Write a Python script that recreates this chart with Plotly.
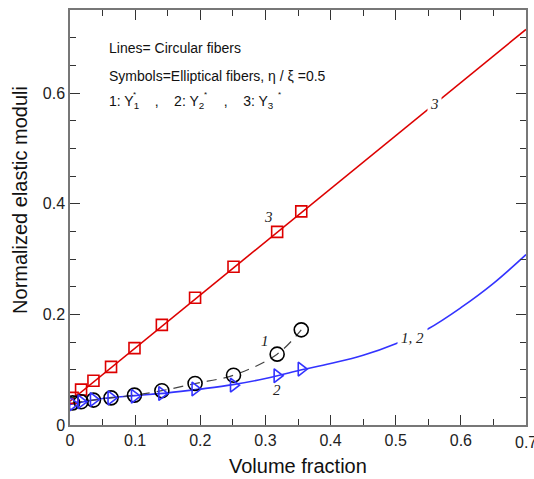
import plotly.graph_objects as go

# ---- data ----
vf_sym = [0.004, 0.017, 0.036, 0.063, 0.099, 0.141, 0.192, 0.251, 0.318, 0.355]
y3_sym = [0.049, 0.064, 0.080, 0.105, 0.139, 0.181, 0.230, 0.286, 0.349, 0.386]
y1_sym = [0.040, 0.042, 0.045, 0.049, 0.054, 0.062, 0.075, 0.090, 0.128, 0.172]
y2_sym = [0.038, 0.042, 0.046, 0.049, 0.052, 0.057, 0.065, 0.072, 0.089, 0.101]

line3_x = [0.0, 0.7]
line3_y = [0.043, 0.715]

line12_x = [0.0, 0.05, 0.1, 0.15, 0.2, 0.25, 0.3, 0.35, 0.4, 0.45, 0.5, 0.55, 0.6, 0.65, 0.7]
line12_y = [0.037, 0.048, 0.053, 0.058, 0.065, 0.073, 0.084, 0.098, 0.111, 0.126, 0.147, 0.174, 0.212, 0.256, 0.308]

x_ticks = [0, 0.1, 0.2, 0.3, 0.4, 0.5, 0.6]
x_tick_labels = ["0", "0.1", "0.2", "0.3", "0.4", "0.5", "0.6"]
x_last_tick = 0.7
x_last_label = "0.7"
y_ticks = [0, 0.2, 0.4, 0.6]
y_tick_labels = ["0", "0.2", "0.4", "0.6"]

RED = "#dd0000"
BLUE = "#3333ff"
BLACK = "#000000"

fig = go.Figure()
fig.add_trace(go.Scatter(x=line3_x, y=line3_y, mode="lines",
                         line=dict(color=RED, width=1.6), showlegend=False))
fig.add_trace(go.Scatter(x=line12_x, y=line12_y, mode="lines",
                         line=dict(color=BLUE, width=1.6, shape="spline"), showlegend=False))
fig.add_trace(go.Scatter(x=vf_sym, y=y1_sym, mode="lines",
                         line=dict(color="#444444", width=1.2, dash="10px,7px", shape="spline"),
                         showlegend=False))
fig.add_trace(go.Scatter(x=vf_sym, y=y3_sym, mode="markers",
                         marker=dict(symbol="square-open", size=11, color=RED,
                                     line=dict(width=1.6, color=RED)), showlegend=False))
fig.add_trace(go.Scatter(x=vf_sym, y=y1_sym, mode="markers",
                         marker=dict(symbol="circle-open", size=14, color=BLACK,
                                     line=dict(width=1.6, color=BLACK)), showlegend=False))
fig.add_trace(go.Scatter(x=vf_sym, y=y2_sym, mode="markers",
                         marker=dict(symbol="triangle-right-open", size=12, color=BLUE,
                                     line=dict(width=1.6, color=BLUE)), showlegend=False))

tick_font = dict(family="Liberation Sans, Arial", size=16, color="#222222")
title_font = dict(family="Liberation Sans, Arial", size=20, color="#111111")
axis_common = dict(
    showgrid=False, zeroline=False, showline=True, linecolor="#777777", linewidth=1.5,
    mirror="allticks", ticks="inside", ticklen=10, tickwidth=1.2, tickcolor="#333333",
    tickfont=tick_font, automargin=False,
)
fig.update_xaxes(range=[0, 0.7], tickmode="array", tickvals=x_ticks + [x_last_tick],
                 ticktext=x_tick_labels + [""],
                 minor=dict(tickmode="linear", tick0=0, dtick=0.05, ticklen=6,
                            tickcolor="#333333", ticks="inside"),
                 **axis_common)
fig.update_yaxes(range=[0, 0.75], tickmode="array", tickvals=y_ticks, ticktext=y_tick_labels,
                 minor=dict(tickmode="linear", tick0=0, dtick=0.05, ticklen=6,
                            tickcolor="#333333", ticks="inside"),
                 **axis_common)

sans = dict(family="Liberation Sans, Arial", size=14, color="#111111")
serif_it = dict(family="Liberation Serif, Times New Roman", size=15, color="#222222")

ann = []
# last x tick label (partly cut by the page edge, as in the reference)
ann.append(dict(text=x_last_label, x=x_last_tick, xref="x", yref="paper", y=-0.018,
                yanchor="top", xanchor="center", showarrow=False, font=tick_font))
# axis titles
ann.append(dict(text="Volume fraction", xref="paper", yref="paper", x=0.5, y=-0.099,
                xanchor="center", yanchor="middle", showarrow=False, font=title_font))
ann.append(dict(text="Normalized elastic moduli", xref="paper", yref="paper",
                x=-0.11, y=0.542, showarrow=False, textangle=-90, font=title_font,
                xanchor="center", yanchor="middle"))
ann.append(dict(text="Lines= Circular fibers", xref="paper", yref="paper", x=0.082, y=0.908,
                xanchor="left", yanchor="middle", showarrow=False, font=sans))
ann.append(dict(text="Symbols=Elliptical fibers, η / ξ =0.5", xref="paper", yref="paper",
                x=0.082, y=0.841, xanchor="left", yanchor="middle", showarrow=False, font=sans))
ann.append(dict(text="1: Y<sub>1</sub>    ,    2: Y<sub>2</sub>     ,    3: Y<sub>3</sub>",
                xref="paper", yref="paper", x=0.082, y=0.778, xanchor="left",
                yanchor="middle", showarrow=False, font=sans))
for sx in [0.141, 0.298, 0.459]:
    ann.append(dict(text="*", xref="paper", yref="paper", x=sx, y=0.797, xanchor="center",
                    yanchor="middle", showarrow=False,
                    font=dict(family="Liberation Sans, Arial", size=8, color="#111111")))

# curve labels
ann.append(dict(text="<i>3</i>", x=0.304, y=0.376, showarrow=False, font=serif_it))
ann.append(dict(text="<i>3</i>", x=0.559, y=0.581, showarrow=False, font=serif_it,
                bgcolor="white", borderpad=2))
ann.append(dict(text="<i>1</i>", x=0.300, y=0.152, showarrow=False, font=serif_it))
ann.append(dict(text="<i>2</i>", x=0.318, y=0.063, showarrow=False, font=serif_it))
ann.append(dict(text="<i>1, 2</i>", x=0.525, y=0.158, showarrow=False, font=serif_it,
                bgcolor="white", borderpad=3))

fig.update_layout(
    width=534, height=479,
    margin=dict(l=70, r=8, t=10, b=54),
    paper_bgcolor="white", plot_bgcolor="white",
    annotations=ann, showlegend=False,
)

fig.write_html("out.html")
